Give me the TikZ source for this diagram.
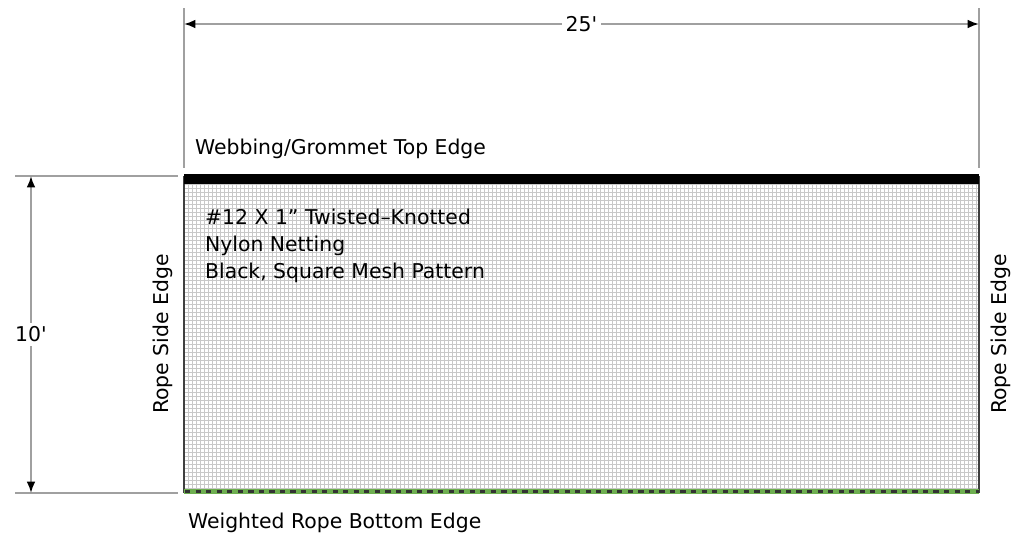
\documentclass[tikz,border=0pt]{standalone}
\usepackage{fontspec}
\setmainfont{DejaVu Sans}
\usepackage{xcolor}
\usepackage{tikz}
\usetikzlibrary{arrows.meta, positioning, calc}

\definecolor{meshgray}{RGB}{200,200,200}
\definecolor{dimgray}{RGB}{160,160,160}
\definecolor{ropegreen}{RGB}{110,175,80}

\begin{document}
\begin{tikzpicture}[
    x=0.02cm, y=-0.02cm,
    txt/.style={font=\fontsize{11.6}{15.2}\selectfont, inner sep=1pt},
    dimlabel/.style={txt, fill=white, inner sep=2pt},
    edgelabel/.style={txt, rotate=90},
    dimline/.style={draw=dimgray, line width=1.1pt},
    dimarrow/.style={dimline, {Latex[length=6.5pt, width=5pt, color=black]}-{Latex[length=6.5pt, width=5pt, color=black]}},
    mesh/.style={draw=meshgray, line width=0.35pt},
    netborder/.style={draw=black!75, line width=0.9pt}
]
\useasboundingbox (0,0) rectangle (1024,548);

% Net corners
\coordinate (nw) at (184,176);
\coordinate (ne) at (979,176);
\coordinate (sw) at (184,493);
\coordinate (se) at (979,493);

% Mesh
\foreach \gx in {188,192,...,976}
    \draw[mesh] (\gx,176) -- (\gx,493);
\foreach \gy in {180,184,...,492}
    \draw[mesh] (184,\gy) -- (979,\gy);
\draw[netborder] (nw) -- (sw);
\draw[netborder] (ne) -- (se);

% Top webbing and bottom rope
\draw[line width=5.5pt, black] ($(nw)+(0,3)$) -- ($(ne)+(0,3)$);
\draw[line width=3pt, ropegreen] ($(sw)+(0,-1.5)$) -- ($(se)+(0,-1.5)$);
\draw[line width=1.6pt, black!80, dash pattern=on 3pt off 3pt] ($(sw)+(1,-1.5)$) -- ($(se)+(0,-1.5)$);

% Width dimension
\coordinate (dimL) at (184,24);
\coordinate (dimR) at (979,24);
\draw[dimline] (184,8) -- (184,168);
\draw[dimline] (979,8) -- (979,168);
\draw[dimarrow] (dimL) -- node[dimlabel] (width) {25\textquotesingle} (dimR);

% Height dimension
\coordinate (dimT) at (31,176);
\coordinate (dimB) at (31,493);
\draw[dimline] (15,176) -- (178,176);
\draw[dimline] (15,493) -- (178,493);
\draw[dimarrow] (dimT) -- node[dimlabel] (height) {10\textquotesingle} (dimB);

% Labels
\node[txt, anchor=west] (top) at (193,149) {Webbing/Grommet Top Edge};
\node[txt, anchor=west] (bottom) at (186,523) {Weighted Rope Bottom Edge};
\node[edgelabel] (left) at (163,334) {Rope Side Edge};
\node[edgelabel] (right) at (1001,334) {Rope Side Edge};
\node[txt, anchor=north west, align=left] (spec) at (203,207) {\#12 X 1” Twisted–Knotted\\Nylon Netting\\Black, Square Mesh Pattern};

\end{tikzpicture}
\end{document}
